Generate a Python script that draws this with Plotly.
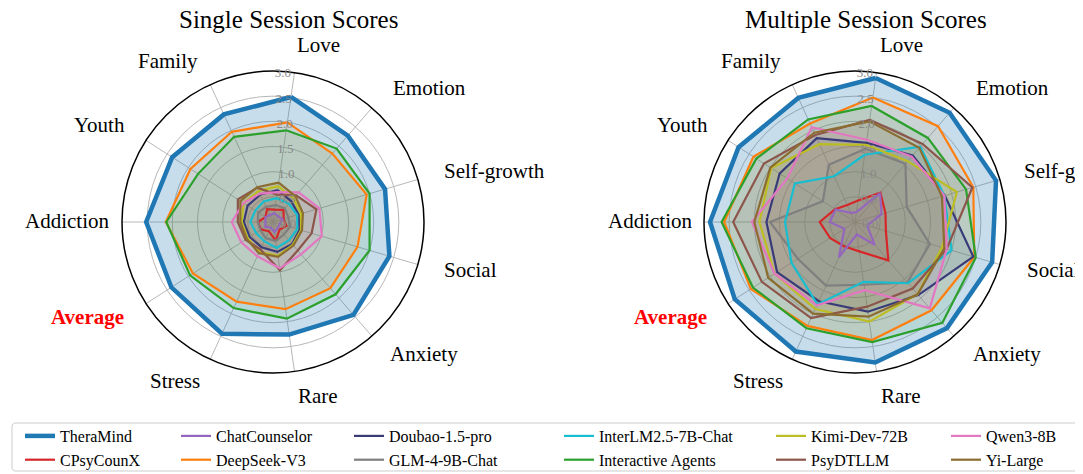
import plotly.graph_objects as go

W, H = 1083, 474
PAGE_OFFSET = 8  # default body margin of the html page

categories = ["Love", "Emotion", "Self-growth", "Social", "Anxiety", "Rare",
              "Stress", "Average", "Addiction", "Youth", "Family"]
models = ["TheraMind", "CPsyCounX", "ChatCounselor", "DeepSeek-V3", "Doubao-1.5-pro",
          "GLM-4-9B-Chat", "InterLM2.5-7B-Chat", "Interactive Agents", "Kimi-Dev-72B",
          "PsyDTLLM", "Qwen3-8B", "Yi-Large"]
radial_ticks = [0.0, 0.5, 1.0, 1.5, 2.0, 2.5, 3.0]
radial_ticktext = ["0.0", "0.5", "1.0", "1.5", "2.0", "2.5", "3.0"]

# ---- Single session scores (order follows `categories`) ----
single_theramind = [2.51, 2.27, 2.32, 2.41, 2.44, 2.26, 2.44, 2.40, 2.52, 2.38, 2.35]
single_cpsycounx = [0.25, 0.32, 0.22, 0.28, 0.20, 0.38, 0.20, 0.28, 0.30, 0.18, 0.28]
single_chatcounselor = [0.18, 0.15, 0.20, 0.14, 0.15, 0.20, 0.12, 0.18, 0.15, 0.18, 0.15]
single_deepseek = [2.00, 1.80, 1.94, 1.75, 1.74, 1.75, 1.74, 1.89, 2.13, 1.95, 1.97]
single_doubao = [0.64, 0.55, 0.53, 0.55, 0.58, 0.60, 0.55, 0.55, 0.58, 0.60, 0.60]
single_glm = [0.34, 0.36, 0.32, 0.35, 0.33, 0.38, 0.35, 0.30, 0.30, 0.35, 0.33]
single_interlm = [0.48, 0.48, 0.50, 0.50, 0.48, 0.52, 0.42, 0.40, 0.45, 0.42, 0.45]
single_interactive = [1.84, 1.93, 2.00, 2.00, 1.90, 1.94, 1.88, 1.96, 2.12, 1.77, 1.86]
single_kimi = [0.72, 0.62, 0.58, 0.58, 0.60, 0.68, 0.65, 0.60, 0.62, 0.70, 0.68]
single_psydtllm = [0.55, 0.70, 0.90, 0.80, 0.75, 0.97, 0.60, 0.65, 0.70, 0.83, 0.75]
single_qwen = [0.60, 0.78, 0.96, 1.01, 0.85, 0.93, 0.75, 0.75, 0.82, 0.70, 0.62]
single_yi = [0.79, 0.68, 0.62, 0.60, 0.62, 0.70, 0.68, 0.62, 0.65, 0.77, 0.76]

# ---- Multiple session scores ----
multi_theramind = [2.89, 2.87, 2.92, 2.84, 2.79, 2.82, 2.83, 2.84, 2.88, 2.75, 2.71]
multi_cpsycounx = [0.43, 0.77, 0.63, 0.64, 1.01, 0.59, 0.53, 0.59, 0.70, 0.47, 0.37]
multi_chatcounselor = [0.20, 0.76, 0.55, 0.25, 0.60, 0.25, 0.77, 0.25, 0.50, 0.46, 0.20]
multi_deepseek = [2.50, 2.52, 2.45, 2.47, 2.32, 2.37, 2.27, 2.46, 2.60, 2.40, 2.15]
multi_doubao = [1.59, 1.75, 1.86, 2.45, 1.92, 1.80, 1.73, 1.84, 1.76, 1.78, 1.83]
multi_glm = [1.47, 1.53, 1.07, 1.55, 1.59, 1.26, 1.39, 1.35, 1.69, 0.76, 1.25]
multi_interlm = [1.35, 1.98, 1.85, 2.00, 1.61, 1.20, 1.80, 1.50, 1.39, 1.42, 1.00]
multi_interactive = [2.33, 2.21, 2.30, 2.50, 2.65, 2.41, 2.32, 2.41, 2.65, 2.33, 2.24]
multi_kimi = [1.55, 1.60, 2.11, 1.80, 1.90, 2.00, 1.90, 1.90, 1.90, 1.98, 1.70]
multi_psydtllm = [2.05, 2.05, 2.43, 1.90, 1.75, 1.70, 2.10, 2.20, 2.42, 2.15, 1.90]
multi_qwen = [1.65, 1.72, 1.85, 1.90, 2.27, 1.37, 1.82, 1.90, 2.05, 1.60, 2.07]
multi_yi = [2.02, 1.95, 1.80, 1.85, 1.90, 1.90, 2.00, 2.05, 2.00, 2.00, 1.95]

single_series = [single_theramind, single_cpsycounx, single_chatcounselor, single_deepseek,
                 single_doubao, single_glm, single_interlm, single_interactive, single_kimi,
                 single_psydtllm, single_qwen, single_yi]
multi_series = [multi_theramind, multi_cpsycounx, multi_chatcounselor, multi_deepseek,
                multi_doubao, multi_glm, multi_interlm, multi_interactive, multi_kimi,
                multi_psydtllm, multi_qwen, multi_yi]

colors = ["#1f77b4", "#d62728", "#9467bd", "#ff7f0e", "#393b79", "#7f7f7f",
          "#17becf", "#2ca02c", "#bcbd22", "#8c564b", "#e377c2", "#8c6d31"]

SERIF = "Liberation Serif, Times New Roman, serif"


def rgba(hexc, a):
    h = hexc.lstrip("#")
    return "rgba(%d,%d,%d,%.2f)" % (int(h[0:2], 16), int(h[2:4], 16), int(h[4:6], 16), a)


def px_x(x):
    return (x - PAGE_OFFSET) / W


def px_y(y):
    return 1 - (y - PAGE_OFFSET) / H


fig = go.Figure()
theta_closed = categories + categories[:1]

for subplot, series_list in [("polar", single_series), ("polar2", multi_series)]:
    # fills first
    for i, vals in enumerate(series_list):
        fig.add_trace(go.Scatterpolar(
            r=vals + vals[:1], theta=theta_closed, subplot=subplot, mode="lines",
            line=dict(width=0, color=colors[i]), fill="toself",
            fillcolor=rgba(colors[i], 0.25 if i == 0 else 0.10),
            showlegend=False, hoverinfo="skip"))
    # lines on top
    for i, vals in enumerate(series_list):
        leg = "legend" if i // 2 == 0 else "legend%d" % (i // 2 + 1)
        fig.add_trace(go.Scatterpolar(
            r=vals + vals[:1], theta=theta_closed, subplot=subplot, mode="lines",
            name=models[i], line=dict(width=4.5 if i == 0 else 2.2, color=colors[i]),
            showlegend=(subplot == "polar"), legend=leg))

R = 151
centers = [(273, 222), (855, 222)]


def polar_layout(cx, cy):
    return dict(
        domain=dict(x=[px_x(cx - R), px_x(cx + R)], y=[px_y(cy + R), px_y(cy - R)]),
        bgcolor="white",
        angularaxis=dict(type="category", categoryarray=categories, rotation=90 - 360 / 11 * 0.25,
                         direction="clockwise", showticklabels=False, ticks="",
                         gridcolor="#b8b8b8", gridwidth=1, linecolor="black", linewidth=1.5),
        radialaxis=dict(range=[0, 3], tickvals=radial_ticks, ticktext=radial_ticktext,
                        showline=False, ticks="", gridcolor="#b8b8b8", gridwidth=1,
                        angle=92, tickangle=92, side="clockwise",
                        tickfont=dict(family=SERIF, size=13, color="#888888")),
    )


annotations = []
# titles
annotations.append(dict(text="Single Session Scores", x=px_x(288), y=px_y(19), xref="paper", yref="paper",
                        xanchor="center", yanchor="middle",
                        showarrow=False, font=dict(family=SERIF, size=25, color="black")))
annotations.append(dict(text="Multiple Session Scores", x=px_x(866), y=px_y(19), xref="paper", yref="paper",
                        xanchor="center", yanchor="middle",
                        showarrow=False, font=dict(family=SERIF, size=25, color="black")))

label_pos_left = [(318, 45), (429, 88), (494, 171), (470, 270), (424, 354), (318, 396),
                  (175, 381), (87, 317), (67, 221), (99, 125), (168, 61)]
dx_right = 855 - 273
for k, cat in enumerate(categories):
    rx = label_pos_left[k][0] + dx_right + (-2 if cat == "Self-growth" else 1)
    for (lx, ly) in [label_pos_left[k], (rx, label_pos_left[k][1])]:
        is_avg = cat == "Average"
        annotations.append(dict(
            text="<b>%s</b>" % cat if is_avg else cat, x=px_x(lx), y=px_y(ly),
            xref="paper", yref="paper", showarrow=False, xanchor="center", yanchor="middle",
            font=dict(family=SERIF, size=21, color="red" if is_avg else "black")))

legend_cols_x = [64, 220, 393, 603, 815, 990]
legend_common = dict(orientation="v", xanchor="left", yanchor="top", bgcolor="rgba(0,0,0,0)",
                     borderwidth=0, font=dict(family=SERIF, size=16, color="black"),
                     tracegroupgap=0, itemclick=False)
layout_legends = {}
for c, tx in enumerate(legend_cols_x):
    key = "legend" if c == 0 else "legend%d" % (c + 1)
    layout_legends[key] = dict(legend_common, x=px_x(tx - 44), y=px_y(419))

# rounded legend frame
bx0, bx1, by0, by1 = px_x(12), px_x(1095), px_y(471), px_y(423)
rx_, ry_ = 4 / W, 4 / H
frame_path = ("M %f,%f L %f,%f Q %f,%f %f,%f L %f,%f Q %f,%f %f,%f L %f,%f Q %f,%f %f,%f "
              "L %f,%f Q %f,%f %f,%f Z") % (
    bx0 + rx_, by1, bx1 - rx_, by1, bx1, by1, bx1, by1 - ry_,
    bx1, by0 + ry_, bx1, by0, bx1 - rx_, by0,
    bx0 + rx_, by0, bx0, by0, bx0, by0 + ry_,
    bx0, by1 - ry_, bx0, by1, bx0 + rx_, by1)

fig.update_layout(
    width=W, height=H, margin=dict(l=0, r=0, t=0, b=0, autoexpand=False),
    paper_bgcolor="white", plot_bgcolor="white",
    polar=polar_layout(*centers[0]), polar2=polar_layout(*centers[1]),
    annotations=annotations,
    shapes=[dict(type="path", xref="paper", yref="paper", path=frame_path,
                 line=dict(color="#cccccc", width=1))],
    **layout_legends,
)

fig.write_html("out.html")
